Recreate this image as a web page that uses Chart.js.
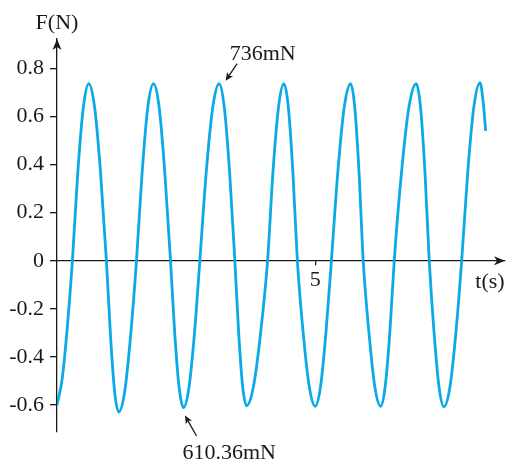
<!DOCTYPE html>
<html>
<head>
<meta charset="utf-8">
<script src="https://cdn.jsdelivr.net/npm/chart.js@4"></script>
<style>
  html, body { margin: 0; padding: 0; background: #ffffff; }
  #wrap { width: 506px; height: 460px; }
</style>
</head>
<body>
<div id="wrap"><canvas id="chart" width="506" height="460"></canvas></div>
<script>
// Measured force signal: time (s) and force (N)
const timeS = [
  0, 0.101, 0.198, 0.298, 0.403, 0.510, 0.614, 0.729, 0.843, 0.957,
  1.037, 1.116, 1.196, 1.310, 1.424, 1.539, 1.649, 1.758, 1.868, 1.979,
  2.087, 2.198, 2.281, 2.366, 2.450, 2.554, 2.661, 2.766, 2.890, 3.016,
  3.140, 3.240, 3.343, 3.444, 3.519, 3.595, 3.671, 3.806, 3.942, 4.078,
  4.182, 4.289, 4.393, 4.481, 4.568, 4.655, 4.769, 4.886, 5.000, 5.103,
  5.207, 5.314, 5.438, 5.562, 5.686, 5.767, 5.849, 5.930, 6.043, 6.155,
  6.267, 6.355, 6.444, 6.531, 6.672, 6.814, 6.957, 7.041, 7.126, 7.209,
  7.304, 7.399, 7.494, 7.609, 7.723, 7.837, 7.955, 8.074, 8.192, 8.256,
  8.302
];
const forceN = [
  -0.600, -0.490, -0.280, 0, 0.368, 0.637, 0.736, 0.637, 0.368, 0,
  -0.315, -0.545, -0.629, -0.545, -0.315, 0, 0.368, 0.637, 0.736, 0.637,
  0.368, 0, -0.305, -0.529, -0.61036, -0.529, -0.305, 0, 0.368, 0.637,
  0.736, 0.637, 0.368, 0, -0.302, -0.522, -0.603, -0.522, -0.302, 0,
  0.368, 0.637, 0.736, 0.637, 0.368, 0, -0.303, -0.524, -0.605, -0.524,
  -0.303, 0, 0.368, 0.637, 0.736, 0.637, 0.368, 0, -0.303, -0.524,
  -0.605, -0.524, -0.303, 0, 0.368, 0.637, 0.736, 0.637, 0.368, 0,
  -0.304, -0.526, -0.607, -0.526, -0.304, 0, 0.371, 0.642, 0.741, 0.654,
  0.540
];

// Axis ticks
const yTicks = [-0.6, -0.4, -0.2, 0, 0.2, 0.4, 0.6, 0.8];
const xTicks = [5];

// Callouts: which sample they point at and the text they show
const peakCallout = { index: 30, text: '736mN' };
const troughCallout = { index: 24, text: '610.36mN' };

const FONT = '"Liberation Serif", "Times New Roman", serif';
const INK = '#1a1a1a';
const LINE = '#0aa9e8';

function arrowHead(ctx, tipX, tipY, dirX, dirY, len, half, notch) {
  const n = Math.hypot(dirX, dirY);
  const ux = dirX / n, uy = dirY / n;
  const px = -uy, py = ux;
  const bx = tipX - ux * len, by = tipY - uy * len;
  ctx.beginPath();
  ctx.moveTo(tipX, tipY);
  ctx.lineTo(bx + px * half, by + py * half);
  ctx.lineTo(tipX - ux * (len - notch), tipY - uy * (len - notch));
  ctx.lineTo(bx - px * half, by - py * half);
  ctx.closePath();
  ctx.fill();
}

function callout(ctx, tailX, tailY, tipX, tipY) {
  ctx.beginPath();
  ctx.moveTo(tailX, tailY);
  ctx.lineTo(tipX - (tipX - tailX) * 0.25, tipY - (tipY - tailY) * 0.25);
  ctx.stroke();
  arrowHead(ctx, tipX, tipY, tipX - tailX, tipY - tailY, 8, 3.6, 2);
}

const decorations = {
  id: 'decorations',
  afterDraw(chart) {
    const { ctx, chartArea, scales } = chart;
    const y0 = scales.y.getPixelForValue(0);
    ctx.save();
    ctx.fillStyle = INK;
    ctx.strokeStyle = INK;
    ctx.lineWidth = 1.3;

    // axis arrowheads
    arrowHead(ctx, chartArea.left, chartArea.top, 0, -1, 11, 4.5, 3);
    arrowHead(ctx, chartArea.right, y0, 1, 0, 11, 4.5, 3);

    // axis titles
    ctx.font = '22px ' + FONT;
    ctx.textAlign = 'center';
    ctx.textBaseline = 'alphabetic';
    ctx.fillText('F(N)', chartArea.left, 29);
    ctx.fillText('t(s)', chartArea.right - 15, 288);

    // callouts
    const meta = chart.getDatasetMeta(0).data;
    const pk = meta[peakCallout.index];
    const pkTipX = pk.x + 6.5, pkTipY = pk.y - 3;
    callout(ctx, pkTipX + 11.5, pkTipY - 17, pkTipX, pkTipY);
    ctx.textAlign = 'left';
    ctx.fillText(peakCallout.text, pkTipX + 4, pkTipY - 21);

    const tr = meta[troughCallout.index];
    const trTipX = tr.x + 1.5, trTipY = tr.y + 8;
    callout(ctx, trTipX + 11.5, chartArea.bottom + 4, trTipX, trTipY);
    ctx.fillText(troughCallout.text, tr.x - 1, chartArea.bottom + 27);
    ctx.restore();
  }
};

new Chart(document.getElementById('chart'), {
  type: 'line',
  data: {
    datasets: [{
      data: timeS.map((t, i) => ({ x: t, y: forceN[i] })),
      borderColor: LINE,
      borderWidth: 2.8,
      pointRadius: 0,
      fill: false,
      cubicInterpolationMode: 'monotone'
    }]
  },
  options: {
    responsive: false,
    animation: false,
    devicePixelRatio: 1,
    layout: { padding: { top: 39, right: 1, bottom: 28, left: 0 } },
    plugins: { legend: { display: false }, tooltip: { enabled: false } },
    scales: {
      x: {
        type: 'linear',
        min: 0,
        max: 8.676,
        position: { y: 0 },
        afterBuildTicks(scale) { scale.ticks = xTicks.map(v => ({ value: v })); },
        grid: { drawOnChartArea: false, drawTicks: true, tickLength: 4, color: INK, lineWidth: 1.3 },
        border: { display: true, color: INK, width: 1.3 },
        ticks: {
          autoSkip: false,
          maxRotation: 0,
          padding: 2,
          color: INK,
          font: { family: FONT, size: 22 },
          callback: v => String(v)
        }
      },
      y: {
        type: 'linear',
        min: -0.712,
        max: 0.922,
        position: 'left',
        afterBuildTicks(scale) { scale.ticks = yTicks.map(v => ({ value: v })); },
        afterFit(scale) { scale.width = 57; },
        grid: { drawOnChartArea: false, drawTicks: true, tickLength: 7, color: INK, lineWidth: 1.3 },
        border: { display: true, color: INK, width: 1.3 },
        ticks: {
          autoSkip: false,
          padding: 6,
          color: INK,
          font: { family: FONT, size: 22 },
          callback: v => (v === 0 ? '0' : v.toFixed(1))
        }
      }
    }
  },
  plugins: [decorations]
});
</script>
</body>
</html>
